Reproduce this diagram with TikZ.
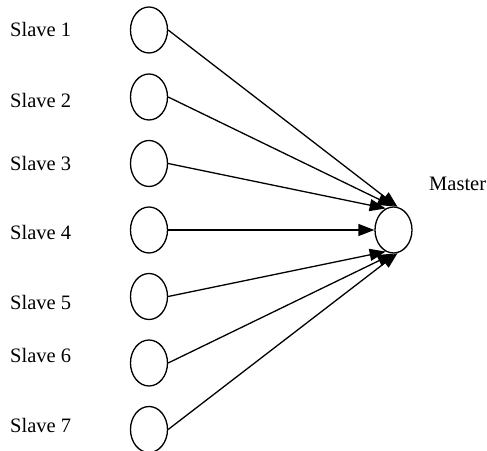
\documentclass[tikz,border=0pt]{standalone}
\usepackage{fontspec}
\setmainfont{Liberation Serif}
\usetikzlibrary{arrows.meta,shapes.geometric}

\tikzset{
  unit/.style={draw, ellipse, line width=1.3pt, minimum width=37pt, minimum height=46pt, inner sep=0pt},
  tag/.style={anchor=west, inner sep=0pt, font=\fontsize{20.5}{24}\selectfont}
}

\begin{document}
\begin{tikzpicture}[x=1pt, y=1pt, >={Triangle[length=16pt,width=12pt]}]
\useasboundingbox (0,0) rectangle (487,450);

% The master on the right
    \node [unit] (master) at (393.5,220) {};
    \node [tag] (mlabel) at (429,266) {Master};

    % The slaves down the left, each with its label
\foreach \i/\cy/\ly in {1/420/421, 2/353/350, 3/286.5/286.5, 4/220/217.5, 5/153.5/147.5, 6/87/94.5, 7/20.5/25} {
        \node [unit] (s\i) at (149,\cy) {};
        \node [tag] (l\i) at (10,\ly) {Slave \i};
    }

    % Every slave sends to the master
\foreach \i/\a in {1/80, 2/90, 3/110, 4/180, 5/250, 6/270, 7/280} {
        \draw [line width=1.3pt, ->] (s\i.east) -- (master.\a);
    }

\end{tikzpicture}
\end{document}
